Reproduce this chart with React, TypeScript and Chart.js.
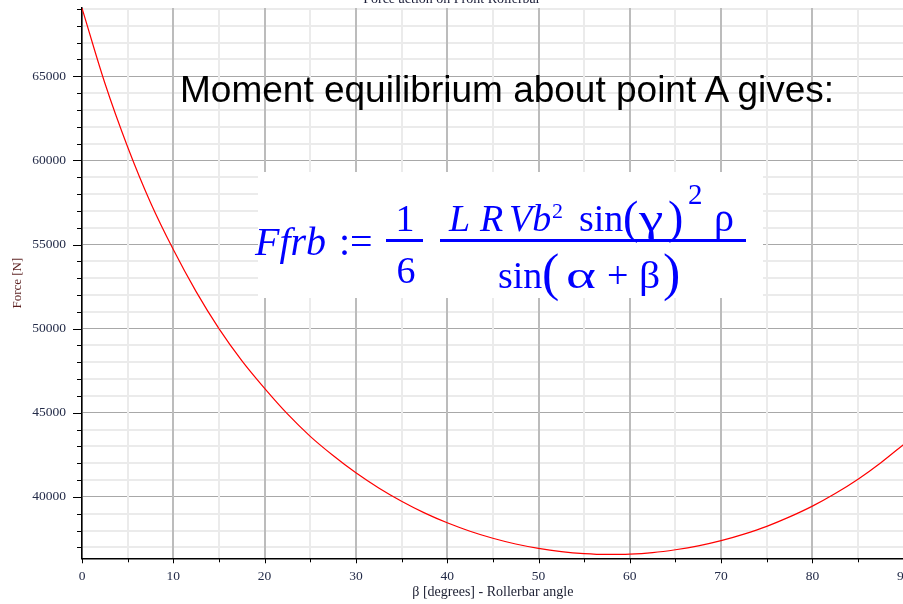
import React, { useEffect, useRef } from "react";
import { Chart, registerables } from "chart.js";

Chart.register(...registerables);

// Roller-bar angle β (degrees) and the force on the front roller bar (N)
const betaDeg = [
  0, 2.5, 5, 7.5, 10, 12.5, 15, 17.5, 20, 22.5, 25, 27.5, 30, 32.5, 35, 37.5, 40, 42.5, 45,
  47.5, 50, 52.5, 55, 57.5, 60, 62.5, 65, 67.5, 70, 72.5, 75, 77.5, 80, 82.5, 85, 87.5, 90,
];
const forceN = [
  69050, 64600, 60800, 57500, 54700, 52200, 50000, 48100, 46450, 44930, 43600, 42460, 41430,
  40530, 39740, 39050, 38460, 37960, 37540, 37200, 36940, 36750, 36630, 36580, 36600, 36690,
  36860, 37090, 37400, 37790, 38250, 38810, 39450, 40200, 41050, 42030, 43120,
];

const chartTitle = "Force action on Front Rollerbar";
const xAxisTitle = "β [degrees] - Rollerbar angle";
const yAxisTitle = "Force [N]";
const headline = "Moment equilibrium about point A gives:";

const xMin = 0;
const xMax = 90;
const xStep = 5;
const xLabelEvery = 10;
const yMin = 36350;
const yMax = 69060;
const yStep = 1000;
const yLabelEvery = 5000;
const yFirstTick = 37000;
const yLastTick = 69000;

const CW = 920;
const CH = 624;
const SHIFT_Y = -20;

const SERIF = '"Liberation Serif", "Times New Roman", serif';
const SANS = '"Liberation Sans", Arial, sans-serif';
const BLUE = "#0000ff";
const TICK_COLOR = "#232b48";

// short outward tick marks: long ones at labelled values, short ones between
const tickMarks = {
  id: "tickMarks",
  afterDraw(chart: any) {
    const { ctx, chartArea, scales } = chart;
    const xs = scales.x;
    const ys = scales.y;
    ctx.save();
    ctx.strokeStyle = "#000";
    ctx.lineWidth = 1;
    ctx.beginPath();
    ys.ticks.forEach((t: any) => {
      const py = Math.round(ys.getPixelForValue(t.value)) + 0.5;
      const len = t.value % yLabelEvery === 0 ? 9 : 5;
      ctx.moveTo(chartArea.left - len, py);
      ctx.lineTo(chartArea.left, py);
    });
    xs.ticks.forEach((t: any) => {
      const px = Math.round(xs.getPixelForValue(t.value)) + 0.5;
      const len = t.value % xLabelEvery === 0 ? 5 : 4;
      ctx.moveTo(px, chartArea.bottom);
      ctx.lineTo(px, chartArea.bottom + len);
    });
    ctx.stroke();
    ctx.restore();
  },
};

function ForceChart() {
  const ref = useRef<HTMLCanvasElement | null>(null);

  useEffect(() => {
    if (!ref.current) return;
    const points = betaDeg.map((b, i) => ({ x: b, y: forceN[i] }));
    const chart = new Chart(ref.current, {
      type: "line",
      data: {
        datasets: [
          {
            data: points,
            borderColor: "#ff0000",
            borderWidth: 1.2,
            pointRadius: 0,
            cubicInterpolationMode: "monotone",
            fill: false,
          },
        ],
      },
      options: {
        responsive: false,
        animation: false,
        devicePixelRatio: 1,
        layout: { padding: { left: 0, right: CW - 903.7, top: 0, bottom: 0 } },
        plugins: {
          legend: { display: false },
          tooltip: { enabled: false },
          title: {
            display: true,
            text: chartTitle,
            color: "#1a1d38",
            font: { family: SERIF, size: 14, weight: "normal" },
            padding: { top: 11, bottom: 0.2 },
          },
        },
        scales: {
          y: {
            type: "linear",
            min: yMin,
            max: yMax,
            afterFit: (s: any) => {
              s.width = 82;
            },
            afterBuildTicks: (s: any) => {
              const ticks: { value: number }[] = [];
              for (let v = yFirstTick; v <= yLastTick; v += yStep) ticks.push({ value: v });
              s.ticks = ticks;
            },
            ticks: {
              autoSkip: false,
              padding: 7,
              color: TICK_COLOR,
              font: { family: SERIF, size: 13.5 },
              callback: (v: any) => (Number(v) % yLabelEvery === 0 ? String(v) : ""),
            },
            grid: {
              z: -2,
              color: (c: any) => (c.tick && c.tick.value % yLabelEvery === 0 ? "#a8a8a8" : "#ebebeb"),
              lineWidth: (c: any) => (c.tick && c.tick.value % yLabelEvery === 0 ? 1 : 2),
              tickLength: 9,
              tickColor: "rgba(0,0,0,0)",
            },
            border: { display: true, color: "#000", width: 1.5 },
            title: {
              display: true,
              text: yAxisTitle,
              color: "#5a1e1e",
              font: { family: SERIF, size: 13 },
              padding: { top: 10, bottom: 0 },
            },
          },
          x: {
            type: "linear",
            min: xMin,
            max: xMax,
            afterFit: (s: any) => {
              s.height = CH - 578.3;
            },
            ticks: {
              stepSize: xStep,
              autoSkip: false,
              maxRotation: 0,
              padding: 5,
              color: TICK_COLOR,
              font: { family: SERIF, size: 13.5 },
              callback: (v: any) => (Number(v) % xLabelEvery === 0 ? String(v) : ""),
            },
            grid: {
              z: -1,
              color: (c: any) => (c.tick && c.tick.value % xLabelEvery === 0 ? "#bcbcbc" : "#ebebeb"),
              lineWidth: 2,
              tickLength: 5,
              tickColor: "rgba(0,0,0,0)",
            },
            border: { display: true, color: "#000", width: 1.5 },
            title: {
              display: true,
              text: xAxisTitle,
              color: "#1a1d30",
              font: { family: SERIF, size: 14 },
              padding: { top: 0, bottom: 3 },
            },
          },
        },
      },
      plugins: [tickMarks],
    } as any);
    return () => chart.destroy();
  }, []);

  return (
    <canvas
      ref={ref}
      width={CW}
      height={CH}
      style={{ position: "absolute", left: 0, top: SHIFT_Y, width: CW, height: CH }}
    />
  );
}

type TProps = {
  x: number;
  base: number;
  size: number;
  italic?: boolean;
  sans?: boolean;
  center?: boolean;
  sx?: number;
  color?: string;
  children: React.ReactNode;
};

// text placed by its left edge (or centre) and baseline; sx widens a glyph
function T({ x, base, size, italic = false, sans = false, center = false, sx, color = BLUE, children }: TProps) {
  const asc = sans ? 0.8465 : 0.8375;
  let transform: string | undefined;
  if (center) transform = "translateX(-50%)";
  if (sx) transform = `scaleX(${sx})`;
  return (
    <span
      style={{
        position: "absolute",
        left: x,
        top: base - asc * size,
        fontSize: size,
        lineHeight: `${size}px`,
        fontFamily: sans ? SANS : SERIF,
        fontStyle: italic ? "italic" : "normal",
        whiteSpace: "pre",
        color,
        transform,
        transformOrigin: "left center",
      }}
    >
      {children}
    </span>
  );
}

function Bar({ x, y, w }: { x: number; y: number; w: number }) {
  return <div style={{ position: "absolute", left: x, top: y, width: w, height: 3, background: BLUE }} />;
}

function Formula() {
  return (
    <>
      <div style={{ position: "absolute", left: 258, top: 172, width: 505, height: 126, background: "#fff" }} />
      <T x={255} base={255} size={40} italic>
        Ffrb
      </T>
      <T x={339} base={255} size={40}>
        :=
      </T>
      <T x={405} base={231} size={38} center>
        1
      </T>
      <Bar x={386} y={238.5} w={37} />
      <T x={406} base={283} size={38} center>
        6
      </T>

      <T x={449} base={231} size={38} italic>
        L
      </T>
      <T x={480} base={231} size={38} italic>
        R
      </T>
      <T x={509} base={231} size={38} italic>
        Vb
      </T>
      <T x={552} base={218} size={22}>
        2
      </T>
      <T x={579} base={231} size={38}>
        sin
      </T>
      <T x={623} base={234} size={46}>
        (
      </T>
      <T x={639} base={231} size={38} sx={1.45}>
        γ
      </T>
      <T x={668} base={234} size={46}>
        )
      </T>
      <T x={688} base={204} size={29}>
        2
      </T>
      <T x={714} base={231} size={40}>
        ρ
      </T>
      <Bar x={440} y={238.5} w={306} />

      <T x={498} base={288} size={38}>
        sin
      </T>
      <T x={542} base={291} size={52}>
        (
      </T>
      <T x={566} base={288} size={38} sx={1.5}>
        α
      </T>
      <T x={607} base={288} size={38}>
        +
      </T>
      <T x={639} base={288} size={38} sx={1.1}>
        β
      </T>
      <T x={663} base={291} size={52}>
        )
      </T>
    </>
  );
}

export default function App() {
  return (
    <div
      style={{
        position: "fixed",
        left: 0,
        top: 0,
        width: 903,
        height: 604,
        overflow: "hidden",
        background: "#fff",
      }}
    >
      <ForceChart />
      <T x={180} base={102.5} size={37} sans color="#000">
        {headline}
      </T>
      <Formula />
    </div>
  );
}
